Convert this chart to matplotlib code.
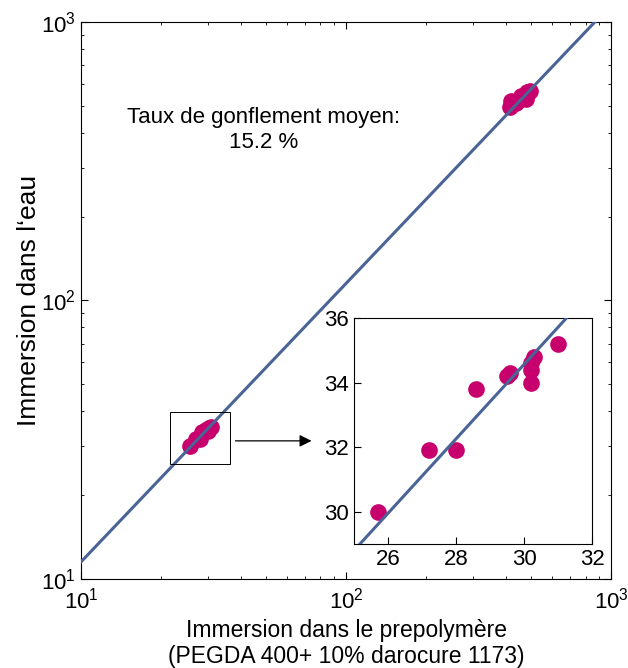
import matplotlib
matplotlib.use("Agg")
import matplotlib.pyplot as plt
from matplotlib.patches import Rectangle

plt.rcParams['font.family'] = ['Liberation Sans', 'DejaVu Sans']
plt.rcParams['mathtext.fontset'] = 'custom'
plt.rcParams['mathtext.rm'] = 'Liberation Sans'
plt.rcParams['mathtext.it'] = 'Liberation Sans:italic'
plt.rcParams['mathtext.bf'] = 'Liberation Sans:bold'

# Data: low-magnitude cluster (also shown in inset)
x_low = [25.7, 27.2, 28.0, 28.6, 29.5, 29.6, 30.2, 30.2, 30.2, 30.3, 31.0]
y_low = [30.0, 31.9, 31.9, 33.8, 34.2, 34.3, 34.0, 34.4, 34.6, 34.8, 35.2]
# Data: high-magnitude cluster
x_high = [414, 420, 436, 448, 455, 462, 472, 476, 482, 486, 492]
y_high = [494, 520, 512, 524, 540, 536, 548, 530, 560, 556, 566]

rate = 1.152  # 15.2 % mean swelling
line_x = [10, 1000]
inset_line_x = [25, 32]

magenta = '#C8006E'
blue = '#4A6496'

fig = plt.figure(figsize=(6.28, 6.68), dpi=100)
ax = fig.add_axes([0.129, 0.1332, 0.8443, 0.834])
ax.plot(line_x, [v * rate for v in line_x], color=blue, lw=2.2, zorder=3)
ax.plot(x_low + x_high, y_low + y_high, 'o', color=magenta, ms=12, mec='none', zorder=2)
ax.set_xscale('log')
ax.set_yscale('log')
ax.set_xlim(10, 1000)
ax.set_ylim(10, 1000)
ax.tick_params(which='both', direction='in', top=True, right=True, labelsize=16)
ax.tick_params(axis='x', which='both', pad=6)
ax.tick_params(which='major', length=5, width=0.8)
ax.tick_params(which='minor', length=2.5, width=0.6)
for s in ax.spines.values():
    s.set_linewidth(0.8)
ax.set_xlabel('Immersion dans le prepolymère\n(PEGDA 400+ 10% darocure 1173)', fontsize=16.5,
              linespacing=1.15, labelpad=4)
ax.set_ylabel('Immersion dans l‘eau', fontsize=19, labelpad=0)
ax.text(0.345, 0.806, 'Taux de gonflement moyen:\n15.2 %', transform=ax.transAxes,
        ha='center', va='center', fontsize=16, linespacing=1.2)

# zoom rectangle
ax.add_patch(Rectangle((21.6, 25.9), 36.4 - 21.6, 39.8 - 25.9, fill=False, ec='black', lw=0.7, zorder=4))
ax.annotate('', xy=(0.440, 0.248), xytext=(0.286, 0.248), xycoords='axes fraction',
            arrowprops=dict(arrowstyle='-|>', color='black', lw=0.9, mutation_scale=18))

# inset
axi = fig.add_axes([0.5637, 0.1856, 0.379, 0.3384])
axi.plot(inset_line_x, [v * rate for v in inset_line_x], color=blue, lw=2.2, zorder=3)
axi.plot(x_low, y_low, 'o', color=magenta, ms=12, mec='none', zorder=2)
axi.set_xlim(25, 32)
axi.set_ylim(29, 36)
axi.set_xticks([26, 28, 30, 32])
axi.set_yticks([30, 32, 34, 36])
axi.tick_params(direction='in', length=5, width=0.8, labelsize=16)
for s in axi.spines.values():
    s.set_linewidth(0.8)

fig.savefig('out.png', dpi=100)
